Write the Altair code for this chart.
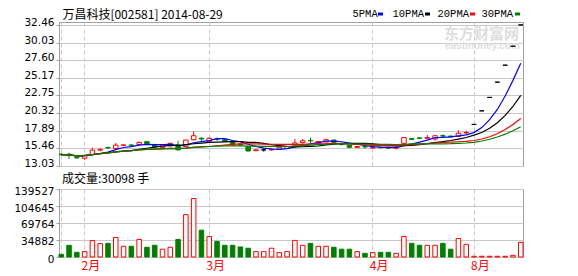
import altair as alt
import pandas as pd

# ---------------- data ----------------
dates = ["2014-01-28", "2014-01-29", "2014-01-30",
         "2014-02-07", "2014-02-10", "2014-02-11", "2014-02-12", "2014-02-13", "2014-02-14",
         "2014-02-17", "2014-02-18", "2014-02-19", "2014-02-20", "2014-02-21",
         "2014-02-24", "2014-02-25", "2014-02-26", "2014-02-27", "2014-02-28",
         "2014-03-03", "2014-03-04", "2014-03-05", "2014-03-06", "2014-03-07",
         "2014-03-10", "2014-03-11", "2014-03-12", "2014-03-13", "2014-03-14",
         "2014-03-17", "2014-03-18", "2014-03-19", "2014-03-20", "2014-03-21",
         "2014-03-24", "2014-03-25", "2014-03-26", "2014-03-27", "2014-03-28", "2014-03-31",
         "2014-04-01", "2014-04-02", "2014-04-03", "2014-04-04",
         "2014-04-08", "2014-04-09", "2014-04-10", "2014-04-11",
         "2014-04-14", "2014-04-15", "2014-04-16", "2014-04-17", "2014-04-18",
         "2014-08-21", "2014-08-22", "2014-08-25", "2014-08-26", "2014-08-27", "2014-08-28", "2014-08-29"]

opens = [14.65, 14.65, 14.20, 14.10, 14.62, 15.22, 15.58, 15.45, 15.88, 15.92,
         16.00, 16.38, 16.00, 15.60, 15.80, 15.95, 15.70, 16.65, 16.85, 16.45,
         16.75, 16.65, 16.25, 16.05, 15.70, 15.15, 15.25, 15.25, 15.35, 15.45,
         15.80, 16.25, 16.55, 16.10, 16.35, 16.60, 16.05, 15.85, 15.60, 15.70,
         15.50, 15.60, 15.55, 15.50, 16.16, 16.80, 16.90, 16.85, 16.75, 17.20,
         17.15, 17.10, 17.60, 18.76, 20.63, 22.48, 24.58, 26.92, 29.53, 32.46]
highs = [14.85, 14.85, 14.35, 14.60, 15.55, 15.45, 15.72, 16.20, 16.00, 16.05,
         16.40, 16.45, 16.05, 16.05, 16.20, 16.50, 16.65, 17.80, 17.00, 17.00,
         16.95, 16.80, 16.30, 16.15, 15.75, 15.35, 15.40, 15.45, 15.65, 15.75,
         16.75, 16.75, 16.95, 16.45, 16.80, 16.65, 16.25, 15.90, 15.80, 15.90,
         15.75, 15.65, 15.60, 15.75, 17.00, 16.86, 16.95, 17.30, 17.25, 17.40,
         17.25, 17.95, 17.90, 18.76, 20.63, 22.48, 24.58, 26.92, 29.53, 32.46]
lows = [14.45, 14.00, 14.05, 13.88, 14.60, 15.05, 15.40, 15.40, 15.80, 15.75,
        15.95, 16.05, 15.62, 15.55, 15.75, 15.20, 15.65, 16.60, 16.40, 16.40,
        16.50, 16.35, 15.80, 15.80, 15.05, 15.05, 15.00, 15.15, 15.30, 15.40,
        15.75, 16.10, 16.20, 16.05, 16.30, 16.25, 15.85, 15.55, 15.55, 15.45,
        15.40, 15.45, 15.40, 15.32, 15.69, 16.60, 16.75, 16.70, 16.50, 16.90,
        16.95, 17.05, 17.40, 18.76, 20.63, 22.48, 24.58, 26.92, 29.53, 32.46]
closes = [14.60, 14.55, 14.15, 14.50, 15.22, 15.32, 15.52, 15.90, 15.93, 15.86,
          16.28, 16.08, 15.66, 15.95, 16.15, 15.25, 16.60, 17.20, 16.75, 16.85,
          16.70, 16.45, 15.95, 15.90, 15.10, 15.25, 15.25, 15.35, 15.60, 15.70,
          16.20, 16.50, 16.50, 16.40, 16.65, 16.30, 16.00, 15.60, 15.70, 15.65,
          15.60, 15.55, 15.50, 15.55, 16.95, 16.70, 16.85, 16.95, 17.20, 17.15,
          17.05, 17.55, 17.65, 18.76, 20.63, 22.48, 24.58, 26.92, 29.53, 32.46]
volumes = [5500, 24000, 9600, 11000, 33700, 27500, 28000, 40000, 22000, 22000,
           36000, 20000, 24000, 16000, 20000, 36000, 87000, 120000, 55000, 42000,
           32000, 24000, 24000, 20600, 18000, 11000, 11000, 18000, 9000, 11000,
           34000, 24000, 28000, 22000, 22000, 20000, 16000, 16000, 11000, 7500,
           9000, 9600, 9600, 7500, 42000, 28000, 24000, 24000, 24000, 28000,
           16000, 38000, 26000, 1500, 1500, 1500, 1500, 1500, 3400, 30098]

price_ticks = [13.03, 15.46, 17.89, 20.32, 22.75, 25.17, 27.60, 30.03, 32.46]
volume_ticks = [0, 34882, 69764, 104645, 139527]
month_starts = ["2014-01-28", "2014-02-07", "2014-03-03", "2014-04-01", "2014-08-21"]
month_labels = ["", "2月", "3月", "4月", "8月"]
ma_windows = [5, 10, 20, 30]
ma_names = ["5PMA", "10PMA", "20PMA", "30PMA"]
title_text = "万昌科技[002581] 2014-08-29"
volume_title = "成交量:30098 手"
watermark_cn = "东方财富网"
watermark_en = "eastmoney.com"

# ---------------- styles ----------------
RED, GREEN, BLACK, BLUE = "#ff0000", "#008000", "#000000", "#0000ff"
ma_colors = [BLUE, BLACK, RED, GREEN]
GRID, FRAME = "#c8c8c8", "#a0a0a0"
CJK = "Noto Sans CJK SC"
NUM = "DejaVu Sans"
W, HP, HV = 464, 144, 68

df = pd.DataFrame({"date": dates, "open": opens, "high": highs, "low": lows,
                   "close": closes, "volume": volumes})
df["dir"] = ["up" if c > o else ("down" if c < o else "flat") for o, c in zip(opens, closes)]
df["vdir"] = ["down" if c < o else "up" for o, c in zip(opens, closes)]

label_expr = "''"
for d, l in reversed(list(zip(month_starts, month_labels))):
    label_expr = f"datum.value === '{d}' ? '{l}' : ({label_expr})"


def x_enc(show_labels):
    return alt.X("date:O", sort=dates,
                 scale=alt.Scale(paddingInner=0.42, paddingOuter=0),
                 axis=alt.Axis(values=month_starts, labels=show_labels, labelExpr=label_expr,
                               ticks=False, tickSize=0, domain=False, grid=True,
                               gridColor=GRID, gridDash=[4, 3], gridWidth=1, title=None,
                               labelAlign="left", labelOffset=-3, labelColor=RED,
                               labelFont=CJK, labelFontSize=12, labelPadding=3,
                               labelAngle=0, labelOverlap=False))


def y_price(field):
    return alt.Y(f"{field}:Q",
                 scale=alt.Scale(domain=[13.03, 32.87], nice=False, zero=False),
                 axis=alt.Axis(values=price_ticks, format=".2f", grid=True, gridColor=GRID,
                               gridWidth=1, tickSize=3, tickColor=FRAME, domainColor=FRAME,
                               labelFont=NUM, labelFontSize=10.5, labelColor=BLACK,
                               labelPadding=2, labelOffset=-2.5, labelOverlap=False,
                               title=None))


dir_stroke = alt.Scale(domain=["up", "down", "flat"], range=[RED, GREEN, BLACK])
dir_fill = alt.Scale(domain=["up", "down", "flat"], range=["#ffffff", GREEN, BLACK])

base = alt.Chart(df)
wicks = base.mark_rule(strokeWidth=1).encode(
    x=x_enc(False), y=y_price("low"), y2="high:Q",
    stroke=alt.Stroke("dir:N", scale=dir_stroke, legend=None))
bodies = base.mark_bar(strokeWidth=1).encode(
    x=x_enc(False), y=y_price("open"), y2="close:Q",
    stroke=alt.Stroke("dir:N", scale=dir_stroke, legend=None),
    fill=alt.Fill("dir:N", scale=dir_fill, legend=None))

ma_layers = []
for n, c in zip(ma_windows, ma_colors):
    ma_layers.append(
        base.transform_window(ma="mean(close)", frame=[-(n - 1), 0],
                              sort=[alt.SortField("date")])
        .mark_line(color=c, strokeWidth=1.2)
        .encode(x=x_enc(False), y=y_price("ma")))

# header text: stock name/date at left, "5PMA■ 10PMA■ ..." legend at right
header = alt.Chart(pd.DataFrame({"t": [title_text]})).mark_text(
    font=CJK, fontSize=12, align="left", baseline="middle", color=BLACK
).encode(text="t:N", x=alt.value(3.4), y=alt.value(-7))

legend_layers = []
leg_text_x = [293.5, 333.5, 378.5, 422.5]
leg_box_x = [319, 366, 411, 456]
for name, c, tx, bx in zip(ma_names, ma_colors, leg_text_x, leg_box_x):
    legend_layers.append(
        alt.Chart(pd.DataFrame({"t": [name]})).mark_text(
            font="Liberation Mono", fontSize=10.5, align="left", baseline="middle", color=BLACK)
        .encode(text="t:N", x=alt.value(tx), y=alt.value(-8)))
    legend_layers.append(
        alt.Chart(pd.DataFrame({"t": [name]})).mark_rect(color=c)
        .encode(x=alt.value(bx), x2=alt.value(bx + 5), y=alt.value(-9.5), y2=alt.value(-6.5)))

wm1 = alt.Chart(pd.DataFrame({"t": [watermark_cn]})).mark_text(
    font=CJK, fontSize=15, fontWeight="bold", color="#dedede", align="left", baseline="top"
).encode(text="t:N", x=alt.value(385), y=alt.value(5))
wm2 = alt.Chart(pd.DataFrame({"t": [watermark_en]})).mark_text(
    font="Liberation Sans", fontSize=10, fontWeight="bold", color="#dedede", align="left",
    baseline="top").encode(text="t:N", x=alt.value(386), y=alt.value(19))

price = alt.layer(wm1, wm2, wicks, bodies, *ma_layers, header, *legend_layers).properties(
    width=W, height=HP)

volume = base.mark_bar(strokeWidth=1).encode(
    x=x_enc(True),
    y=alt.Y("volume:Q", scale=alt.Scale(domain=[0, 139527], nice=False),
            axis=alt.Axis(values=volume_ticks, format="d", grid=True, gridColor=GRID,
                          gridWidth=1, tickSize=3, tickColor=FRAME, domainColor=FRAME,
                          labelFont=NUM, labelFontSize=10.5, labelColor=BLACK,
                          labelPadding=2, labelOffset=2, labelOverlap=False, title=None)),
    stroke=alt.Stroke("vdir:N", scale=alt.Scale(domain=["up", "down"], range=[RED, GREEN]),
                      legend=None),
    fill=alt.Fill("vdir:N", scale=alt.Scale(domain=["up", "down"], range=["#ffffff", GREEN]),
                  legend=None),
).properties(
    width=W, height=HV,
    title=alt.TitleParams(volume_title, anchor="start", frame="group", dx=3, offset=0,
                          fontSize=12, font=CJK, fontWeight="normal", color=BLACK))

chart = alt.vconcat(price, volume, spacing=23, bounds="flush").properties(
    padding={"left": 13, "top": 8, "right": 5, "bottom": 2},
    background="#ffffff",
).configure_view(stroke=FRAME, strokeWidth=1)

chart.save("out.html", embed_options={"renderer": "svg", "actions": False})
